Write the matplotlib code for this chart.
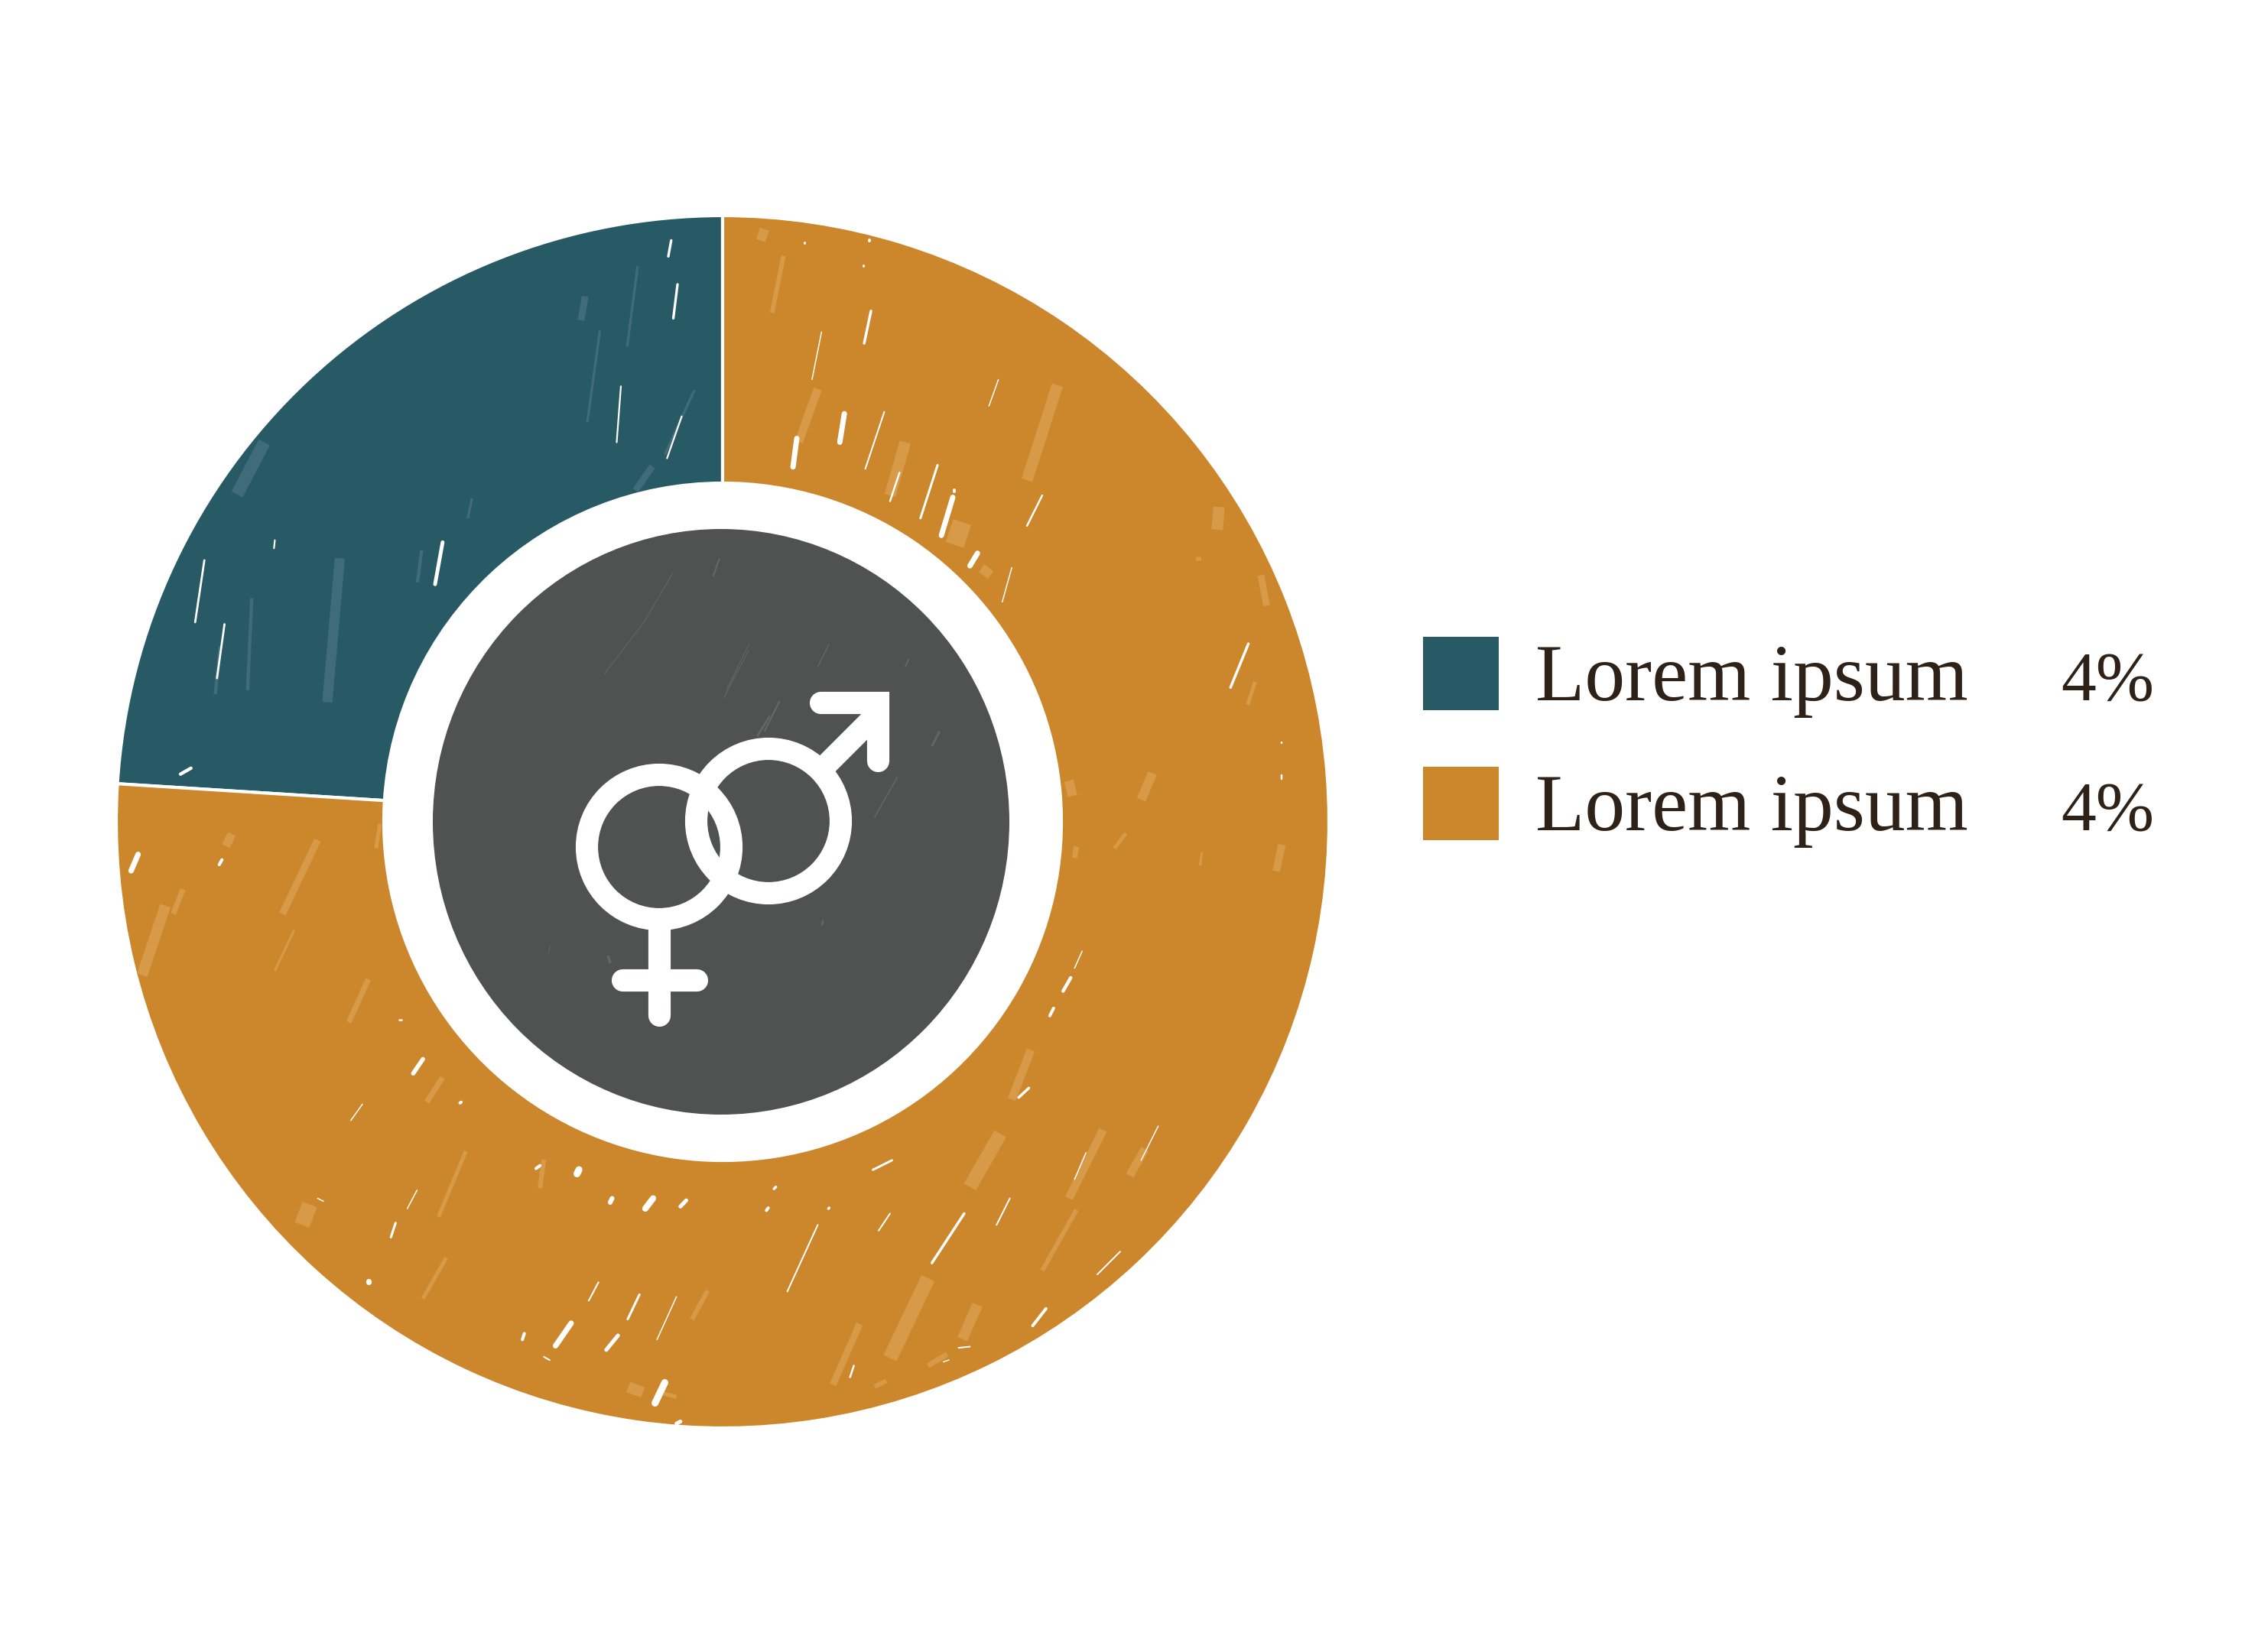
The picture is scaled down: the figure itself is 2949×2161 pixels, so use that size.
import matplotlib
matplotlib.use('Agg')
import matplotlib.pyplot as plt
from matplotlib.patches import Ellipse

W, H = 2949, 2161

# share of the ring, clockwise from the teal edge
ring_labels = ['Lorem ipsum', 'Lorem ipsum']
legend_values = ['4%', '4%']
ring_values = [24, 76]

TEAL = '#285a66'
ORANGE = '#cc872c'
GRAY = '#505251'
INK = '#2e2118'
ORANGE_PALE = '#d69a48'
TEAL_PALE = '#3f6c78'
GRAY_PALE = '#646665'

cx, cy, R = 945, 1075, 793
hole_r = 443

crop_top_right = (950, 270, 2.01, 2.01)
crop_bottom_right = (950, 1080, 2.01, 2.01)
crop_bottom_left = (150, 1040, 1.96, 1.867)
crop_top_left = (140, 270, 1.823, 1.912)
crop_icon = (700, 860, 3.0, 3.0)

white_a = [(380, 275, 362, 360, 7), (250, 330, 225, 455, 3), (310, 545, 298, 620, 14),
           (185, 610, 175, 685, 14), (415, 540, 365, 690, 4), (455, 700, 430, 775, 5),
           (555, 680, 510, 820, 6), (595, 765, 565, 865, 14), (660, 912, 640, 945, 14),
           (598, 745, 598, 750, 8), (830, 760, 790, 840, 5), (750, 950, 725, 1040, 3),
           (715, 455, 690, 525, 3), (1372, 1150, 1325, 1265, 7), (375, 88, 375, 90, 8),
           (205, 95, 205, 97, 6), (360, 155, 360, 157, 6), (1460, 1410, 1460, 1412, 5),
           (1460, 1495, 1460, 1505, 5)]
pale_a = [(870, 470, 790, 720, 30), (1295, 790, 1290, 850, 30), (1405, 970, 1420, 1050, 18),
          (620, 830, 600, 890, 50), (690, 950, 675, 970, 30), (470, 620, 430, 760, 30),
          (240, 480, 190, 620, 22), (150, 130, 120, 280, 12), (100, 60, 90, 90, 25),
          (900, 1510, 910, 1550, 25), (1120, 1490, 1090, 1560, 25), (1240, 920, 1240, 930, 14),
          (1390, 1250, 1370, 1310, 10)]
white_b = [(905, 400, 885, 435, 9), (860, 480, 850, 500, 8), (935, 330, 915, 375, 3),
           (795, 690, 768, 715, 7), (435, 880, 385, 905, 6), (270, 1005, 268, 1007, 7),
           (110, 1005, 105, 1012, 8), (130, 950, 125, 955, 7), (430, 1020, 400, 1065, 4),
           (625, 1020, 540, 1150, 7), (745, 980, 710, 1050, 4), (240, 1050, 160, 1225, 4),
           (1135, 790, 1090, 880, 3), (945, 860, 915, 930, 3), (1035, 1120, 975, 1180, 4),
           (840, 1270, 805, 1315, 8), (640, 1370, 610, 1373, 4), (585, 1405, 570, 1410, 3),
           (335, 1420, 325, 1450, 5)]
pale_b = [(800, 590, 750, 720, 22), (720, 810, 640, 950, 36), (530, 1190, 430, 1400, 38),
          (990, 800, 900, 980, 22), (1100, 850, 1060, 920, 22), (920, 1010, 830, 1170, 12),
          (660, 1260, 620, 1350, 28), (1460, 50, 1445, 120, 20), (350, 1310, 280, 1470, 18),
          (420, 1460, 390, 1475, 12), (920, 55, 915, 85, 14), (1250, 70, 1245, 105, 6),
          (1050, 20, 1020, 60, 10), (580, 1390, 530, 1420, 14)]
white_c = [(60, 145, 42, 185, 14), (275, 158, 268, 170, 8), (790, 645, 765, 680, 11),
           (635, 755, 605, 795, 3), (720, 1045, 708, 1080, 6), (775, 965, 750, 1010, 3),
           (1190, 915, 1185, 925, 18), (1275, 985, 1270, 995, 12), (1380, 985, 1360, 1010, 16),
           (1465, 990, 1450, 1005, 10), (1170, 1290, 1130, 1345, 14), (1240, 1190, 1215, 1235, 4),
           (1345, 1220, 1315, 1280, 6), (1290, 1320, 1260, 1355, 10), (1440, 1225, 1390, 1330, 3),
           (1410, 1435, 1385, 1485, 18), (1050, 1315, 1045, 1330, 8), (650, 1188, 650, 1190, 14),
           (1090, 905, 1080, 912, 8), (888, 750, 885, 752, 8), (535, 992, 520, 985, 3),
           (1450, 1530, 1440, 1535, 10), (735, 548, 730, 548, 5), (1115, 1380, 1100, 1372, 4)]
pale_c = [(520, 110, 430, 290, 18), (300, 95, 285, 125, 22), (175, 230, 150, 290, 14),
          (130, 270, 70, 440, 28), (650, 450, 600, 555, 14), (840, 690, 800, 750, 14),
          (1520, 1210, 1480, 1280, 12), (500, 1000, 480, 1050, 40), (460, 330, 410, 430, 6),
          (1340, 1440, 1330, 1465, 40), (1400, 1460, 1440, 1470, 10), (1100, 890, 1090, 960, 12),
          (680, 70, 670, 130, 10), (900, 870, 830, 1030, 10), (850, 1130, 790, 1230, 10)]
white_d = [(1345, 85, 1338, 125, 6), (1360, 195, 1350, 280, 6), (1225, 450, 1215, 590, 4),
           (1370, 525, 1335, 630, 4), (800, 840, 782, 945, 9), (400, 835, 398, 855, 4),
           (232, 885, 210, 1040, 5), (280, 1045, 262, 1180, 5), (200, 1405, 175, 1420, 8)]
pale_d = [(1140, 225, 1130, 285, 16), (555, 880, 525, 1240, 24), (375, 590, 310, 720, 30),
          (1175, 310, 1145, 540, 6), (1265, 150, 1240, 350, 6), (345, 980, 335, 1210, 8),
          (750, 860, 740, 940, 8), (270, 1100, 258, 1220, 8), (870, 730, 860, 780, 6),
          (1300, 650, 1260, 710, 16), (1400, 460, 1330, 620, 6)]
gray_d = [(1350, 915, 1280, 1040, 2), (1460, 880, 1445, 925, 4), (1530, 1110, 1470, 1230, 2),
          (1280, 1040, 1185, 1170, 2)]
gray_a = [(480, 1190, 470, 1210, 4), (560, 1380, 540, 1420, 6), (270, 1150, 240, 1210, 3),
          (140, 1300, 100, 1380, 5), (60, 1150, 0, 1270, 2)]
gray_e = [(1420, 470, 1330, 630, 5), (920, 230, 870, 310, 8), (790, 50, 740, 160, 2),
          (1130, 1030, 1125, 1050, 8), (285, 1170, 295, 1200, 10), (60, 1130, 50, 1160, 3)]

brush_layers = [
    (crop_top_right, pale_a, ORANGE_PALE), (crop_bottom_right, pale_b, ORANGE_PALE),
    (crop_bottom_left, pale_c, ORANGE_PALE), (crop_top_left, pale_d, TEAL_PALE),
    (crop_top_left, gray_d, GRAY_PALE), (crop_top_right, gray_a, GRAY_PALE),
    (crop_icon, gray_e, GRAY_PALE),
    (crop_top_right, white_a, 'white'), (crop_bottom_right, white_b, 'white'),
    (crop_bottom_left, white_c, 'white'), (crop_top_left, white_d, 'white'),
]

fig = plt.figure(figsize=(W / 100, H / 100), dpi=100, facecolor='white')

ax_ring = fig.add_axes([(cx - R) / W, 1 - (cy + R) / H, 2 * R / W, 2 * R / H])
ax_ring.pie(ring_values, colors=[TEAL, ORANGE], startangle=176.4, counterclock=False,
            radius=1, wedgeprops=dict(width=1 - hole_r / R, edgecolor='white', linewidth=3))
ax_ring.set_xlim(-1, 1)
ax_ring.set_ylim(-1, 1)

# everything else sits on a pixel sized overlay
ax = fig.add_axes([0, 0, 1, 1], facecolor='none')
ax.set_xlim(0, W)
ax.set_ylim(H, 0)
ax.axis('off')

ax.add_patch(Ellipse((943, 1075), 754, 766, color=GRAY, lw=0))

for (x0, y0, zx, zy), marks, colour in brush_layers:
    for x1, y1, x2, y2, width in marks:
        ax.plot([x0 + x1 / zx, x0 + x2 / zx], [y0 + y1 / zy, y0 + y2 / zy],
                color=colour, lw=width / zx * 0.72, solid_capstyle='round' if colour == 'white' else 'butt')

# gender symbol
icon = dict(color='white', lw=21, solid_capstyle='round', solid_joinstyle='miter')
ax.add_patch(plt.Circle((862, 1108), 94.5, fill=False, ec='white', lw=21))
ax.add_patch(plt.Circle((1005, 1074), 94.5, fill=False, ec='white', lw=21))
ax.plot([862, 862], [1215, 1328], **icon)
ax.plot([814, 911], [1282, 1282], **icon)
ax.plot([1072, 1148], [1009, 933], **{**icon, 'solid_capstyle': 'butt'})
ax.plot([1073, 1148, 1148], [919, 919, 995], **icon)

# legend
for y, colour, label, value in zip([833, 1003], [TEAL, ORANGE], ring_labels, legend_values):
    ax.add_patch(plt.Rectangle((1861, y), 99, 96, color=colour, lw=0))
    ax.text(2008, y + 83, label, family='Liberation Serif', fontsize=76, color=INK, va='baseline')
    ax.text(2817, y + 83, value, family='Liberation Serif', fontsize=66, color=INK,
            va='baseline', ha='right')

fig.savefig('out.png', dpi=100, facecolor='white')
